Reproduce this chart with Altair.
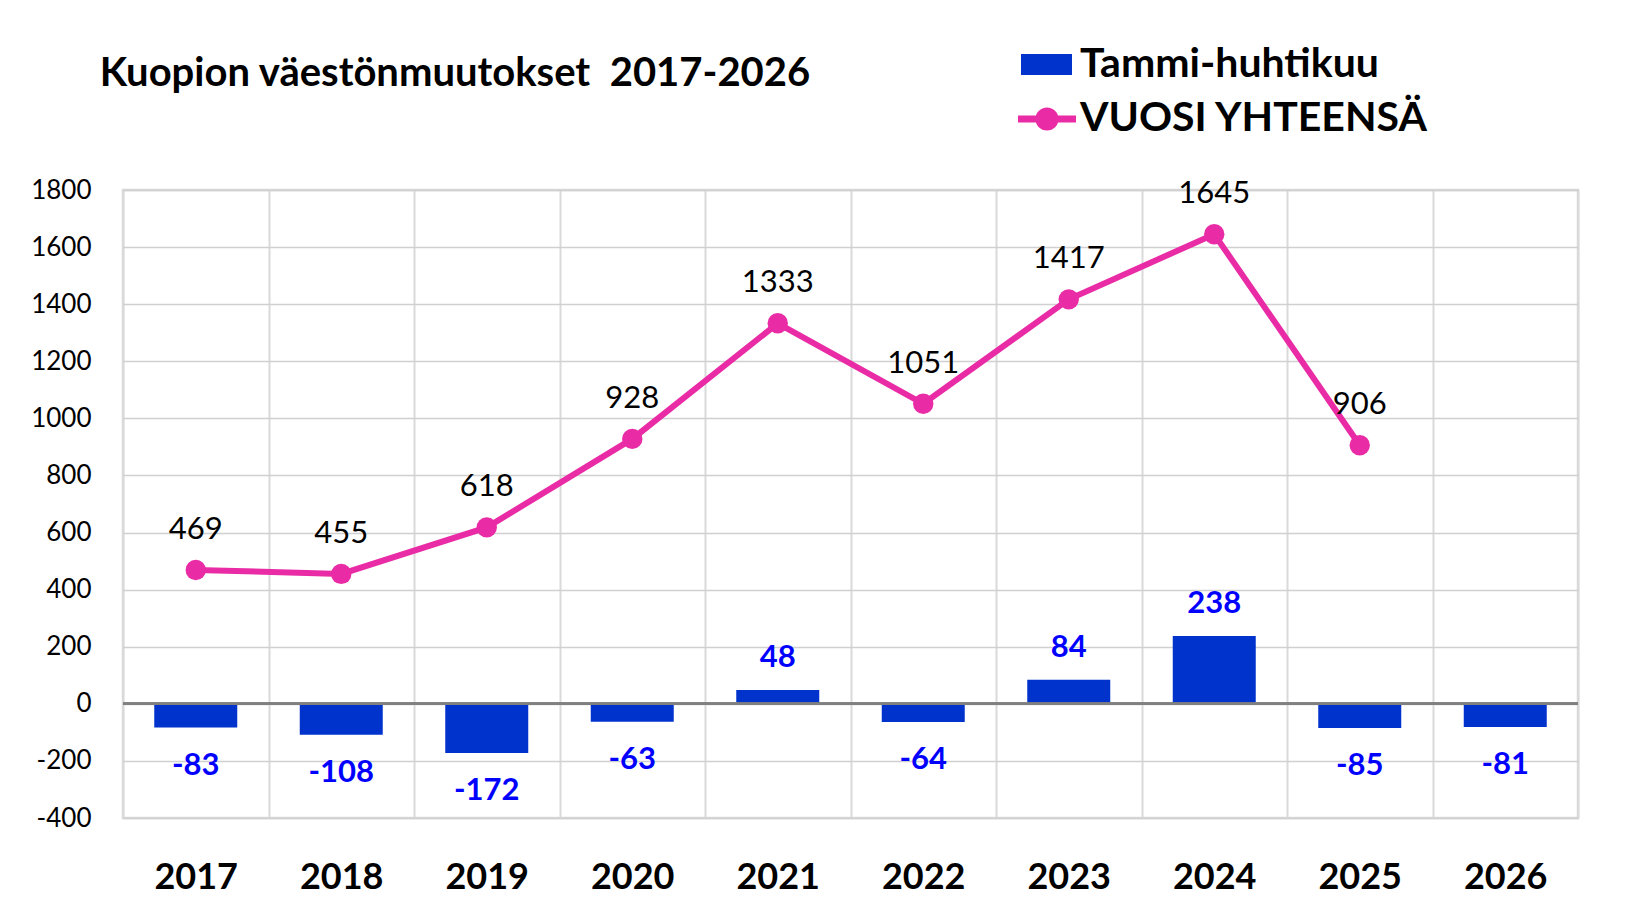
import altair as alt
import pandas as pd

years = ["2017", "2018", "2019", "2020", "2021", "2022", "2023", "2024", "2025", "2026"]
tammi_huhtikuu = [-83, -108, -172, -63, 48, -64, 84, 238, -85, -81]
vuosi_yhteensa = [469, 455, 618, 928, 1333, 1051, 1417, 1645, 906, None]
y_ticks = [-400, -200, 0, 200, 400, 600, 800, 1000, 1200, 1400, 1600, 1800]
series_bar = "Tammi-huhtikuu"
series_line = "VUOSI YHTEENSÄ"

BLUE = "#0033CC"
PINK = "#E92CA6"
LABEL_BLUE = "#0000FF"
FONT = "Lato"

df = pd.DataFrame({
    "vuosi": years,
    "tammi": tammi_huhtikuu,
    "yhteensa": vuosi_yhteensa,
    "s1": [series_bar] * len(years),
    "s2": [series_line] * len(years),
})

x = alt.X(
    "vuosi:N", sort=years, title=None,
    scale=alt.Scale(paddingInner=0, paddingOuter=0),
    axis=alt.Axis(labelAngle=0, labelFont=FONT, labelFontSize=36,
                  labelFontWeight="bold", labelColor="black", labelPadding=42,
                  ticks=False, domain=False, grid=True, gridColor="#d9d9d9",
                  gridWidth=2, tickBand="extent"),
)
yscale = alt.Scale(domain=[-400, 1800], nice=False, zero=False)
yaxis = alt.Axis(values=y_ticks, labelFont=FONT, labelFontSize=26,
                 labelColor="black", labelPadding=32, ticks=False, domain=False,
                 gridColor="#d0d0d0", gridWidth=1.5, labelExpr="'' + datum.value")


def ych(field):
    return alt.Y(field, scale=yscale, axis=yaxis, title=None)


base = alt.Chart(df)

bars = base.mark_bar(size=83).encode(
    x=x,
    y=ych("tammi:Q"),
    color=alt.Color("s1:N", scale=alt.Scale(domain=[series_bar], range=[BLUE]),
                    legend=alt.Legend(title=None, orient="none", legendX=898, legendY=-151,
                                      symbolType="M-1,-0.41H1V0.41H-1Z", symbolSize=2601,
                                      symbolStrokeWidth=0, labelFont=FONT, labelFontSize=41,
                                      labelFontWeight="bold", labelColor="black",
                                      labelOffset=8, labelLimit=600)),
)

zero = base.mark_rule(color="#808080", strokeWidth=2).encode(y=alt.datum(0, scale=yscale))

line = base.mark_line(color=PINK, strokeWidth=6).encode(
    x=x, y=ych("yhteensa:Q")
)

points = base.mark_circle(size=415, opacity=1).encode(
    x=x,
    y=ych("yhteensa:Q"),
    color=alt.Color("s2:N", scale=alt.Scale(domain=[series_line], range=[PINK]),
                    legend=alt.Legend(title=None, orient="none", legendX=895, legendY=-100,
                                      symbolType="M-1,-0.12H1V0.12H-1Z M0.4,0A0.4,0.4,0,1,1,-0.4,0A0.4,0.4,0,1,1,0.4,0Z",
                                      symbolSize=3364, symbolStrokeWidth=0,
                                      labelFont=FONT, labelFontSize=41,
                                      labelFontWeight="bold", labelColor="black",
                                      labelOffset=4, labelLimit=600)),
)

bar_lbl_pos = base.transform_filter("datum.tammi >= 0").transform_calculate(
    lbl="'' + datum.tammi"
).mark_text(dy=-32, color=LABEL_BLUE, font=FONT, fontSize=31, fontWeight="bold",
            baseline="middle").encode(
    x=x, y=ych("tammi:Q"), text="lbl:N"
)

bar_lbl_neg = base.transform_filter("datum.tammi < 0").transform_calculate(
    lbl="'' + datum.tammi"
).mark_text(dy=38, color=LABEL_BLUE, font=FONT, fontSize=31, fontWeight="bold",
            baseline="middle").encode(
    x=x, y=ych("tammi:Q"), text="lbl:N"
)

line_lbl = base.transform_filter("isValid(datum.yhteensa)").transform_calculate(
    lbl="'' + datum.yhteensa"
).mark_text(dy=-40, color="black", font=FONT, fontSize=31,
            baseline="middle").encode(
    x=x, y=ych("yhteensa:Q"), text="lbl:N"
)

chart = alt.layer(bars, zero, line, points, bar_lbl_pos, bar_lbl_neg, line_lbl).resolve_scale(
    color="independent"
).properties(
    width=1455,
    height=628,
    padding={"left": 123, "top": 190, "right": 51, "bottom": 100},
    autosize=alt.AutoSizeParams(type="none"),
    background="white",
    title=alt.TitleParams("Kuopion väestönmuutokset\u00a0 2017-2026", anchor="start",
                          dx=69, offset=0, dy=55, font=FONT, fontSize=40,
                          fontWeight="bold", color="black"),
).configure_view(stroke="#d9d9d9", strokeWidth=2.5)

chart.save("out.html", embed_options={"renderer": "svg", "actions": False})
